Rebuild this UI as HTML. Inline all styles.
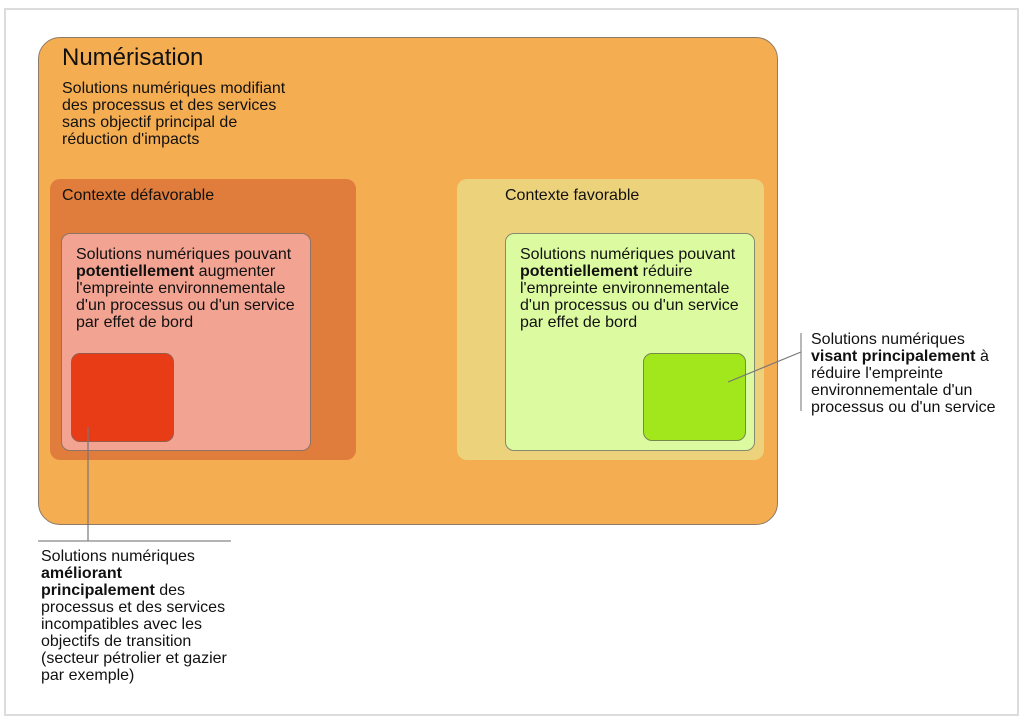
<!DOCTYPE html>
<html><head><meta charset="utf-8"><style>
body{margin:0;width:1024px;height:721px;background:#fff;position:relative;overflow:hidden;font-family:"Liberation Sans",Arial,sans-serif;color:#111}
div{position:absolute;box-sizing:border-box}
.t{font-size:16px;line-height:17px;white-space:nowrap}
</style></head><body>
<div style="left:4px;top:8px;width:1015px;height:708px;border:2px solid #dcdcdc"></div>
<div style="left:38px;top:37px;width:740px;height:488px;background:#f5ad52;border:1px solid #8d7a68;border-radius:22px"></div>
<div style="left:62px;top:44px;font-size:24px;line-height:28px">Numérisation</div>
<div class="t" style="left:62px;top:80px">Solutions numériques modifiant<br>des processus et des services<br>sans objectif principal de<br>réduction d'impacts</div>
<div style="left:50px;top:179px;width:306px;height:281px;background:#e07c3c;border-radius:10px"></div>
<div class="t" style="left:62px;top:187px">Contexte défavorable</div>
<div style="left:61px;top:233px;width:250px;height:218px;background:#f2a392;border:1px solid #8d7466;border-radius:9px"></div>
<div class="t" style="left:76px;top:246px">Solutions numériques pouvant<br><b>potentiellement</b> augmenter<br>l'empreinte environnementale<br>d'un processus ou d'un service<br>par effet de bord</div>
<div style="left:71px;top:353px;width:103px;height:89px;background:#e83c17;border:1px solid #9a5a48;border-radius:9px"></div>
<div style="left:457px;top:179px;width:307px;height:281px;background:#edd27c;border-radius:10px"></div>
<div class="t" style="left:505px;top:187px">Contexte favorable</div>
<div style="left:505px;top:233px;width:250px;height:218px;background:#dcfba0;border:1px solid #858a70;border-radius:9px"></div>
<div class="t" style="left:520px;top:246px">Solutions numériques pouvant<br><b>potentiellement</b> réduire<br>l'empreinte environnementale<br>d'un processus ou d'un service<br>par effet de bord</div>
<div style="left:643px;top:353px;width:103px;height:88px;background:#a2e61c;border:1px solid #76894c;border-radius:9px"></div>
<svg style="position:absolute;left:0;top:0" width="1024" height="721">
<line x1="88" y1="427" x2="88" y2="541" stroke="#777" stroke-width="1.2"/>
<line x1="38" y1="541" x2="231" y2="541" stroke="#888" stroke-width="1.2"/>
<line x1="728" y1="382" x2="801" y2="352" stroke="#777" stroke-width="1.2"/>
<line x1="801" y1="333" x2="801" y2="411" stroke="#888" stroke-width="1.2"/>
</svg>
<div class="t" style="left:811px;top:331px">Solutions numériques<br><b>visant principalement</b> à<br>réduire l'empreinte<br>environnementale d'un<br>processus ou d'un service</div>
<div class="t" style="left:41px;top:548px">Solutions numériques<br><b>améliorant<br>principalement</b> des<br>processus et des services<br>incompatibles avec les<br>objectifs de transition<br>(secteur pétrolier et gazier<br>par exemple)</div>
</body></html>
